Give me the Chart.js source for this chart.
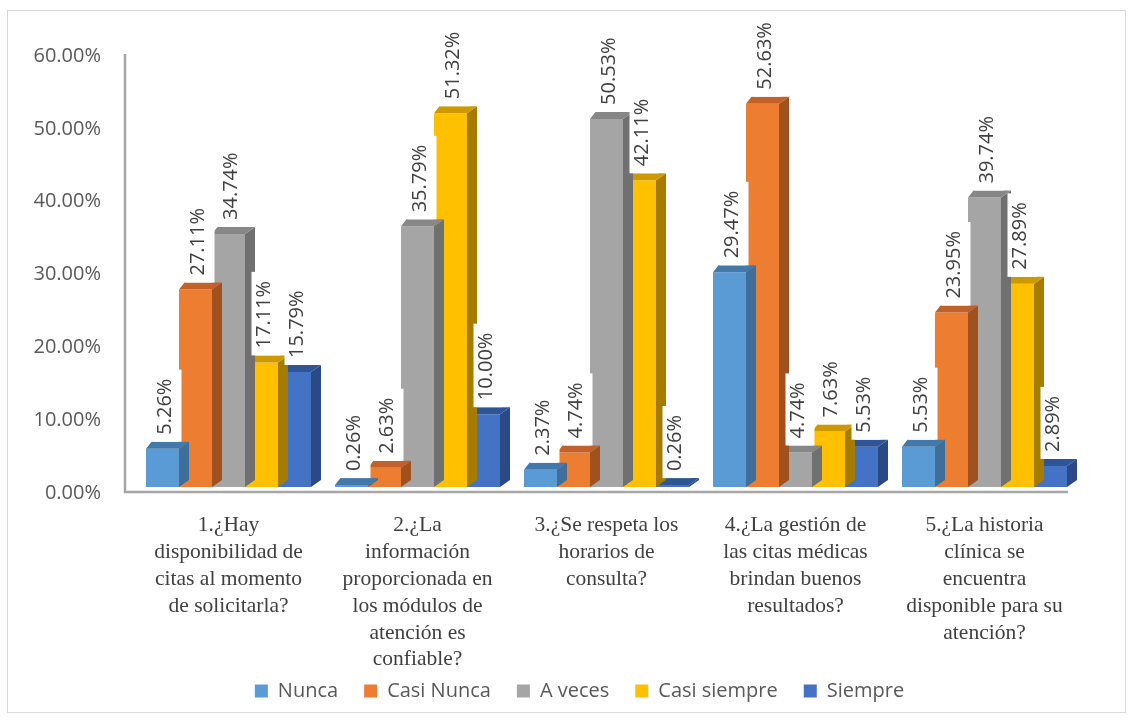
<!DOCTYPE html>
<html>
<head>
<meta charset="utf-8">
<title>Encuesta citas médicas</title>
<script src="https://cdn.jsdelivr.net/npm/chart.js@4.4.1/dist/chart.umd.min.js"></script>
<style>
  html, body { margin: 0; padding: 0; background: #fff; }
  #wrap { position: relative; width: 1133px; height: 721px; }
</style>
</head>
<body>
<div id="wrap"><canvas id="chart"></canvas></div>
<script>
// preguntas del eje X (ya partidas en líneas)
const categories = [
  ['1.¿Hay', 'disponibilidad de', 'citas al momento', 'de solicitarla?'],
  ['2.¿La', 'información', 'proporcionada en', 'los módulos de', 'atención es', 'confiable?'],
  ['3.¿Se respeta los', 'horarios de', 'consulta?'],
  ['4.¿La gestión de', 'las citas médicas', 'brindan buenos', 'resultados?'],
  ['5.¿La historia', 'clínica se', 'encuentra', 'disponible para su', 'atención?']
];

const seriesNames = ['Nunca', 'Casi Nunca', 'A veces', 'Casi siempre', 'Siempre'];

// porcentajes por respuesta
const nunca = [5.26, 0.26, 2.37, 29.47, 5.53];
const casiNunca = [27.11, 2.63, 4.74, 52.63, 23.95];
const aVeces = [34.74, 35.79, 50.53, 4.74, 39.74];
const casiSiempre = [17.11, 51.32, 42.11, 7.63, 27.89];
const siempre = [15.79, 10.00, 0.26, 5.53, 2.89];

const yTicks = [0, 10, 20, 30, 40, 50, 60];

// frente, tapa y costado de cada barra
const colors = [
  { front: '#5B9BD5', top: '#4378AA', side: '#3D6E9C' },
  { front: '#ED7D31', top: '#C2612A', side: '#A0511E' },
  { front: '#A5A5A5', top: '#878787', side: '#707070' },
  { front: '#FFC000', top: '#CC9A00', side: '#A67C00' },
  { front: '#4472C4', top: '#2F5597', side: '#2B4A85' }
];

const DX = 10, DY = -7;

// dibuja tapa y costado de las barras para darles volumen
const bars3d = {
  id: 'bars3d',
  afterDatasetDraw(chart, args) {
    const ctx = chart.ctx;
    const c = colors[args.index];
    args.meta.data.forEach(bar => {
      const { x, y, base, width } = bar.getProps(['x', 'y', 'base', 'width'], true);
      const l = x - width / 2, r = x + width / 2;
      ctx.save();
      ctx.fillStyle = c.side;
      ctx.beginPath();
      ctx.moveTo(r, y);
      ctx.lineTo(r + DX, y + DY);
      ctx.lineTo(r + DX, base + DY);
      ctx.lineTo(r, base);
      ctx.closePath();
      ctx.fill();
      ctx.fillStyle = c.top;
      ctx.beginPath();
      ctx.moveTo(l, y);
      ctx.lineTo(l + DX * 0.55, y + DY);
      ctx.lineTo(r + DX, y + DY);
      ctx.lineTo(r, y);
      ctx.closePath();
      ctx.fill();
      ctx.restore();
    });
  }
};

// etiquetas verticales con fondo blanco encima de cada barra
const valueLabels = {
  id: 'valueLabels',
  afterDatasetsDraw(chart) {
    const ctx = chart.ctx;
    ctx.save();
    ctx.font = '20px "Open Sans"';
    chart.data.datasets.forEach((ds, i) => {
      const meta = chart.getDatasetMeta(i);
      meta.data.forEach((bar, j) => {
        const text = ds.data[j].toFixed(2) + '%';
        const w = ctx.measureText(text).width;
        const start = bar.y - 14;
        ctx.fillStyle = '#ffffff';
        ctx.fillRect(bar.x - 10, start - w - 9, 29, w + 16);
        ctx.save();
        ctx.translate(bar.x + 3, start);
        ctx.rotate(-Math.PI / 2);
        ctx.fillStyle = '#404040';
        ctx.textAlign = 'left';
        ctx.textBaseline = 'middle';
        ctx.fillText(text, 0, 0);
        ctx.restore();
      });
    });
    ctx.restore();
  }
};

// marco exterior y ejes (pared y piso)
const frame = {
  id: 'frame',
  // la leyenda va un poco más arriba y a la derecha de su caja
  afterLayout(chart) {
    const lg = chart.legend;
    lg.left += 40; lg.right += 40;
    lg.top -= 19; lg.bottom -= 19;
  },
  beforeDatasetsDraw(chart) {
    const ctx = chart.ctx;
    const area = chart.chartArea;
    const y0 = chart.scales.y.getPixelForValue(0) + 5;
    ctx.save();
    ctx.strokeStyle = '#d9d9d9';
    ctx.lineWidth = 1;
    ctx.strokeRect(7.5, 10.5, 1118, 702);
    ctx.strokeStyle = '#a6a6a6';
    ctx.lineWidth = 2.5;
    ctx.beginPath();
    ctx.moveTo(area.left - 9, area.top + 4);
    ctx.lineTo(area.left - 9, y0);
    ctx.lineTo(area.right - 11, y0);
    ctx.stroke();
    ctx.restore();
  }
};

const datasets = [nunca, casiNunca, aVeces, casiSiempre, siempre].map((data, i) => ({
  label: seriesNames[i],
  data: data,
  backgroundColor: colors[i].front,
  borderWidth: 0,
  categoryPercentage: 0.873,
  barPercentage: 1.0
}));

new Chart(document.getElementById('chart'), {
  type: 'bar',
  data: { labels: categories, datasets: datasets },
  options: {
    responsive: true,
    maintainAspectRatio: false,
    animation: false,
    layout: { padding: { top: 50, right: 54, bottom: -9, left: 0 } },
    plugins: {
      tooltip: { enabled: false },
      legend: {
        position: 'bottom',
        labels: {
          boxWidth: 13,
          boxHeight: 13,
          padding: 26,
          color: '#595959',
          font: { family: '"Open Sans"', size: 20 }
        }
      }
    },
    scales: {
      x: {
        afterFit(s) { s.height = 187; },
        grid: { display: false, drawTicks: false },
        border: { display: false },
        ticks: {
          autoSkip: false,
          maxRotation: 0,
          padding: 25,
          color: '#404040',
          font: { family: '"Liberation Serif"', size: 21.5, lineHeight: 1.25 }
        }
      },
      y: {
        min: 0,
        max: 60,
        afterFit(s) { s.width = 134; },
        afterBuildTicks(s) { s.ticks = yTicks.map(v => ({ value: v })); },
        grid: { display: false, drawTicks: false },
        border: { display: false },
        ticks: {
          padding: 33,
          labelOffset: 6,
          color: '#595959',
          font: { family: '"Open Sans"', size: 20 },
          callback: v => v.toFixed(2) + '%'
        }
      }
    }
  },
  plugins: [frame, bars3d, valueLabels]
});
</script>
</body>
</html>
